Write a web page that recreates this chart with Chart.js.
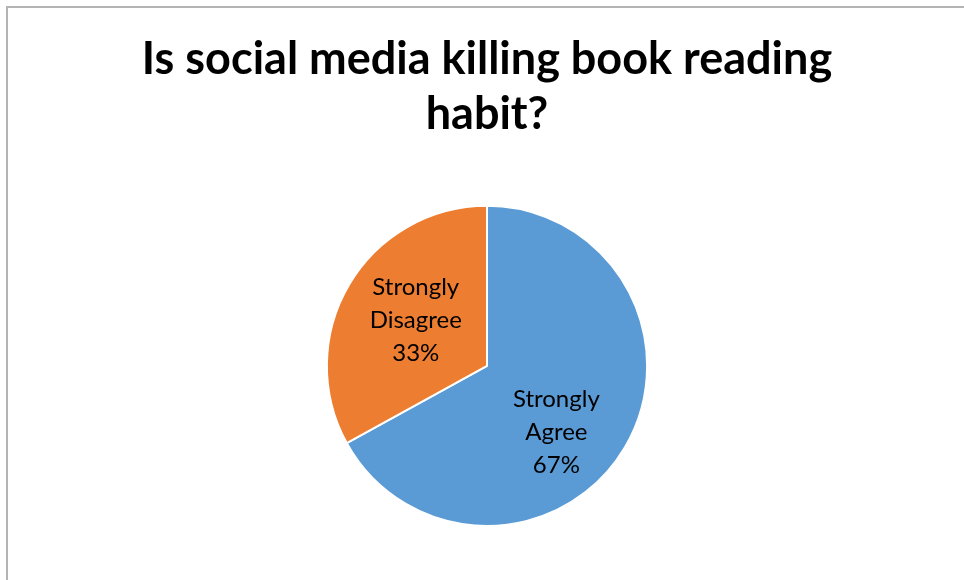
<!DOCTYPE html>
<html>
<head>
  <title>Social media and book reading</title>
  <meta charset="UTF-8">
  <script src="https://cdn.jsdelivr.net/npm/chart.js"></script>
  <style>
    body {
      margin: 0;
      background: #fff;
      overflow: hidden;
    }
    .frame {
      position: absolute;
      left: 6px;
      top: 6px;
      width: 980px;
      height: 600px;
      border: 2px solid #b4b4b4;
    }
    .chart-box {
      position: absolute;
      left: 0;
      top: 0;
      width: 964px;
      height: 580px;
    }
  </style>
</head>
<body>
  <div class="frame"></div>
  <div class="chart-box">
    <canvas id="pieChart"></canvas>
  </div>

  <script>
    // Survey answers
    const categories = ['Strongly Agree', 'Strongly Disagree'];
    const shares = [67, 33];
    const sliceColors = ['#5b9bd5', '#ed7d31'];

    // In-slice labels: name on separate lines, then the percentage
    const sliceLabels = {
      id: 'sliceLabels',
      afterDatasetsDraw(chart, args, opts) {
        const ctx = chart.ctx;
        const meta = chart.getDatasetMeta(0);
        ctx.save();
        ctx.font = opts.font;
        ctx.fillStyle = '#000';
        ctx.textAlign = 'center';
        ctx.textBaseline = 'middle';
        meta.data.forEach((arc, i) => {
          const p = arc.getProps(['x', 'y', 'startAngle', 'endAngle', 'outerRadius'], true);
          const place = opts.place[i];
          const mid = (p.startAngle + p.endAngle) / 2 + place.shift;
          const r = p.outerRadius * place.frac;
          const cx = p.x + Math.cos(mid) * r;
          const cy = p.y + Math.sin(mid) * r;
          const lines = categories[i].split(' ').concat(shares[i] + '%');
          const top = cy - (lines.length - 1) * opts.lineHeight / 2;
          lines.forEach((t, k) => ctx.fillText(t, cx, top + k * opts.lineHeight));
        });
        ctx.restore();
      }
    };

    const ctx = document.getElementById('pieChart').getContext('2d');
    new Chart(ctx, {
      type: 'pie',
      data: {
        labels: categories,
        datasets: [{
          data: shares,
          backgroundColor: sliceColors,
          borderColor: '#ffffff',
          borderWidth: 2
        }]
      },
      options: {
        responsive: true,
        maintainAspectRatio: false,
        animation: false,
        layout: {
          padding: { left: 10, right: 0, top: 0, bottom: 53 }
        },
        plugins: {
          legend: { display: false },
          tooltip: { enabled: false },
          title: {
            display: true,
            text: ['Is social media killing book reading', 'habit?'],
            color: '#000',
            font: { family: 'Lato', size: 45, weight: 'bold', lineHeight: 1.22 },
            padding: { top: 32, bottom: 63 }
          },
          sliceLabels: {
            font: '24px Lato',
            lineHeight: 33,
            place: [
              { shift: 0.23, frac: 0.6 },
              { shift: 0.04, frac: 0.53 }
            ]
          }
        }
      },
      plugins: [sliceLabels]
    });
  </script>
</body>
</html>
